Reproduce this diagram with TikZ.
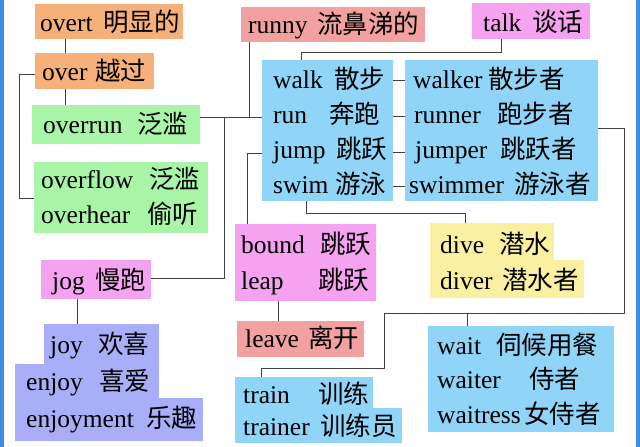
\documentclass[tikz,border=0pt]{standalone}
\usepackage{fontspec}
\setmainfont{Liberation Serif}
\newfontfamily\cjkf{Noto Sans CJK SC}
\definecolor{cOrange}{HTML}{F6B07A}
\definecolor{cGreen}{HTML}{A8F5A8}
\definecolor{cSalmon}{HTML}{F2A0A0}
\definecolor{cPink}{HTML}{F5A2F0}
\definecolor{cBlue}{HTML}{90D4F8}
\definecolor{cYellow}{HTML}{FBF0A2}
\definecolor{cLav}{HTML}{A8AEF8}
\definecolor{cEdge}{HTML}{3F8DE6}
\definecolor{cLine}{HTML}{404040}
\tikzset{
  box/.style={draw=none, inner sep=0pt, outer sep=0pt, anchor=north west},
  en/.style={anchor=base west, inner sep=0pt, font=\fontsize{25.5}{30}\selectfont},
  zh/.style={anchor=base west, inner sep=0pt, font=\cjkf\fontsize{25.5}{30}\selectfont},
  conn/.style={draw=cLine, line width=1pt}
}
\newcommand{\bx}[6]{\node[box, fill=#2, minimum width=#5pt-#3pt, minimum height=#6pt-#4pt] (#1) at (#3,#4) {};}
\begin{document}
\begin{tikzpicture}[x=1pt,y=-1pt]
\useasboundingbox (0,0) rectangle (640,447);
\fill[white] (0,0) rectangle (640,447);
\fill[cEdge] (0,0) rectangle (4,447);
\fill[cEdge] (636,0) rectangle (640,447);
% boxes
\bx{overt}{cOrange}{35}{4}{183}{39}
\bx{over}{cOrange}{35}{53}{154}{89}
\bx{overrun}{cGreen}{32}{105}{200}{144}
\bx{overflow}{cGreen}{34}{162}{208}{233}
\bx{runny}{cSalmon}{241}{7}{425}{42}
\bx{talk}{cPink}{472}{3}{590}{39}
\bx{walk}{cBlue}{262}{60}{393}{201}
\bx{walker}{cBlue}{405}{60}{598}{201}
\bx{bound}{cPink}{235}{224}{376}{301}
\bx{leave}{cSalmon}{237}{321}{364}{357}
\bx{trainA}{cBlue}{235}{377}{373}{410}
\bx{trainB}{cBlue}{235}{408}{402}{443}
\bx{diveA}{cYellow}{430}{223}{554}{262}
\bx{diveB}{cYellow}{430}{260}{584}{298}
\bx{wait}{cBlue}{428}{326}{614}{432}
\bx{jog}{cPink}{41}{260}{151}{299}
\bx{joyA}{cLav}{44}{324}{159}{366}
\bx{joyB}{cLav}{15}{364}{159}{400}
\bx{joyC}{cLav}{15}{398}{203}{441}
% texts
\node[en] (t1) at (40,31) {overt}; \node[zh] (z1) at (103,31) {明显的};
\node[en] (t2) at (42,80) {over}; \node[zh] (z2) at (95,80) {越过};
\node[en] (t3) at (43,133) {overrun}; \node[zh] (z3) at (137,133) {泛滥};
\node[en] (t4) at (41,188) {overflow}; \node[zh] (z4) at (149,188) {泛滥};
\node[en] (t5) at (41,223) {overhear}; \node[zh] (z5) at (147,223) {偷听};
\node[en] (t6) at (248,33) {runny}; \node[zh] (z6) at (317,33) {流鼻涕的};
\node[en] (t7) at (483,31) {talk}; \node[zh] (z7) at (532,31) {谈话};
\node[en] (t8) at (273,88) {walk}; \node[zh] (z8) at (334,88) {散步};
\node[en] (t9) at (273,123) {run}; \node[zh] (z9) at (329,123) {奔跑};
\node[en] (t10) at (273,158) {jump}; \node[zh] (z10) at (336,158) {跳跃};
\node[en] (t11) at (273,193) {swim}; \node[zh] (z11) at (335,193) {游泳};
\node[en] (t12) at (413,88) {walker}; \node[zh] (z12) at (488,88) {散步者};
\node[en] (t13) at (414,123) {runner}; \node[zh] (z13) at (497,123) {跑步者};
\node[en] (t14) at (415,158) {jumper}; \node[zh] (z14) at (500,158) {跳跃者};
\node[en] (t15) at (409,193) {swimmer}; \node[zh] (z15) at (514,193) {游泳者};
\node[en] (t16) at (241,253) {bound}; \node[zh] (z16) at (320,253) {跳跃};
\node[en] (t17) at (241,289) {leap}; \node[zh] (z17) at (318,289) {跳跃};
\node[en] (t18) at (245,347) {leave}; \node[zh] (z18) at (308,347) {离开};
\node[en] (t19) at (243,403) {train}; \node[zh] (z19) at (318,403) {训练};
\node[en] (t20) at (243,435) {trainer}; \node[zh] (z20) at (320,435) {训练员};
\node[en] (t21) at (440,253) {dive}; \node[zh] (z21) at (499,253) {潜水};
\node[en] (t22) at (440,289) {diver}; \node[zh] (z22) at (502,289) {潜水者};
\node[en] (t23) at (437,354) {wait}; \node[zh] (z23) at (496,354) {伺候用餐};
\node[en] (t24) at (437,388) {waiter}; \node[zh] (z24) at (529,388) {侍者};
\node[en] (t25) at (437,423) {waitress}; \node[zh] (z25) at (524,423) {女侍者};
\node[en] (t26) at (52,289) {jog}; \node[zh] (z26) at (95,289) {慢跑};
\node[en] (t27) at (50,353) {joy}; \node[zh] (z27) at (98,353) {欢喜};
\node[en] (t28) at (26,390) {enjoy}; \node[zh] (z28) at (99,390) {喜爱};
\node[en] (t29) at (26,427) {enjoyment}; \node[zh] (z29) at (146,427) {乐趣};
% helper coordinates
\coordinate (x19) at (19,0);
\coordinate (x65) at (65,0);
\coordinate (x77) at (77,0);
\coordinate (x247) at (247,0);
\coordinate (x249) at (249,0);
\coordinate (x261) at (261,0);
\coordinate (x278) at (278,0);
\coordinate (x301) at (301,0);
\coordinate (x306) at (306,0);
\coordinate (x465) at (465,0);
\coordinate (x501) at (501,0);
\coordinate (jA) at (224,117);
\coordinate (jB) at (249,117);
\coordinate (jw) at (467,313);
% connectors
\draw[conn] (overt.south -| x65) -- (over.north -| x65);
\draw[conn] (over.south -| x65) -- (overrun.north -| x65);
\draw[conn] (over.west |- 0,74) -| (x19 |- 0,198) -- (overflow.west |- 0,198);
\draw[conn] (overrun.east |- 0,117) -- (walk.west |- 0,117);
\draw[conn] (runny.south -| x249) -- (jB);
\draw[conn] (jog.east |- 0,278) -| (jA);
\draw[conn] (walk.west |- 0,153) -| (bound.north -| x247);
\draw[conn] (talk.south -| x501) |- (301,52) -- (walk.north -| x301);
\foreach \yy in {80,116,152,186} {\draw[conn] (walk.east |- 0,\yy) -- (walker.west |- 0,\yy);}
\draw[conn] (walk.south -| x306) |- (465,213) -- (diveA.north -| x465);
\draw[conn] (walker.east |- 0,128) -| (624,313) -| (384,368) -| (trainA.north -| x261);
\draw[conn] (jw) -- (wait.north -| jw);
\draw[conn] (bound.south -| x278) -- (leave.north -| x278);
\draw[conn] (jog.south -| x77) -- (joyA.north -| x77);
\end{tikzpicture}
\end{document}
